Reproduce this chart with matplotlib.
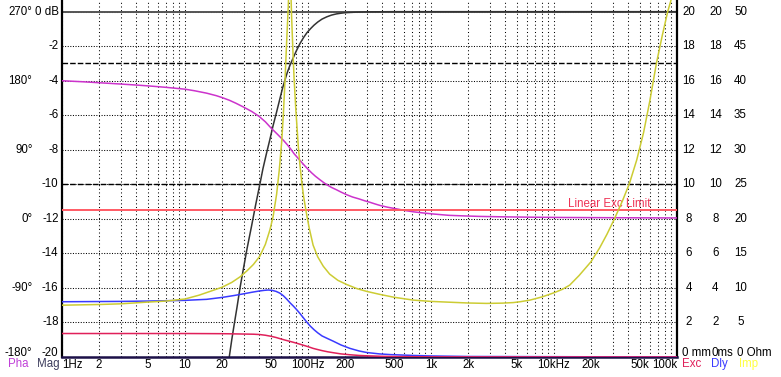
"""Speaker simulation chart: SPL, phase, excursion, group delay and impedance."""

import matplotlib

matplotlib.use("Agg")
import matplotlib.pyplot as plt
from matplotlib.ticker import LogLocator, NullFormatter
from matplotlib.transforms import blended_transform_factory

plt.rcParams["font.family"] = ["Liberation Sans", "DejaVu Sans"]
FONT_SIZE = 8.3

# axis labelling
FREQ_TICKS = [1, 2, 5, 10, 20, 50, 100, 200, 500, 1000, 2000, 5000, 10000, 20000, 50000, 100000]
FREQ_LABELS = ["1Hz", "2", "5", "10", "20", "50", "100Hz", "200", "500", "1k", "2k", "5k", "10kHz", "20k", "50k", "100k"]
DB_TICKS = [0, -2, -4, -6, -8, -10, -12, -14, -16, -18, -20]
DB_LABELS = ["0 dB", "-2", "-4", "-6", "-8", "-10", "-12", "-14", "-16", "-18", "-20"]
PHASE_TICKS = [270, 180, 90, 0, -90, -180]
PHASE_LABELS = ["270°", "180°", "90°", "0°", "-90°", "-180°"]
EXC_TICKS = [20, 18, 16, 14, 12, 10, 8, 6, 4, 2]
DLY_TICKS = [20, 18, 16, 14, 12, 10, 8, 6, 4, 2]
IMP_TICKS = [50, 45, 40, 35, 30, 25, 20, 15, 10, 5]
ZERO_LABELS = ["0 mm", "0ms", "0 Ohm"]
LEGEND_LEFT = ["Pha", "Mag"]
LEGEND_RIGHT = ["Exc", "Dly", "Imp"]

# SPL magnitude (dB)
mag_freq = [20, 21.5, 22.9, 24, 25, 26.5, 28, 30, 32, 34.8, 37.5, 40.6, 43, 46, 49, 52, 55.6, 59.3, 62, 65, 68,
            71.4, 75, 80, 86, 92, 98, 105, 112, 120, 130, 142, 155, 170, 185, 200, 250, 300, 500, 100000]
mag_db = [-23.0, -21.3, -20.0, -19.0, -18.2, -17.1, -16.0, -14.8, -13.7, -12.4, -11.2, -10.0, -9.1, -8.2, -7.4,
          -6.6, -5.8, -5.0, -4.45, -3.95, -3.5, -3.1, -2.75, -2.3, -1.85, -1.5, -1.22, -0.98, -0.78, -0.6,
          -0.43, -0.3, -0.2, -0.13, -0.09, -0.06, -0.025, -0.01, 0.0, 0.0]

# phase (degrees)
pha_freq = [1, 1.5, 2, 3, 4, 5, 6, 7, 8, 10, 12, 15, 18, 20, 23, 26, 30, 35, 40, 45, 50, 56, 63, 68, 72, 77,
            83, 89, 95, 101, 107, 115, 125, 135, 142, 155, 170, 185, 206, 230, 260, 290, 319, 350, 385, 440,
            526, 620, 718, 866, 1050, 1400, 1900, 2500, 4000, 6400, 12000, 30000, 100000]
pha_deg = [180, 178.6, 177.4, 175.7, 174.4, 173.3, 172.3, 171.4, 170.5, 169, 166.9, 163.8, 160.5, 158.1, 154.5,
           150.6, 145.6, 139.8, 133.6, 126.5, 118.5, 110.8, 102.5, 96.5, 91.5, 85, 79, 73.5, 68.5, 64, 60, 55.5,
           51, 47, 44.6, 41, 38, 35, 31.5, 28.5, 26, 23.5, 21.6, 19.5, 17.5, 15.3, 13, 10.8, 9.2, 7.7, 6.3,
           4.6, 3.8, 3.2, 2.6, 2.2, 1.8, 1.5, 1.2]

# cone excursion (mm)
exc_freq = [1, 5, 10, 20, 30, 36, 40.6, 45, 50, 55, 60, 65, 70, 78, 88, 100, 110, 117, 130, 145, 160, 185, 219,
            260, 300, 400, 500, 1000, 100000]
exc_mm = [1.36, 1.36, 1.36, 1.35, 1.33, 1.32, 1.3, 1.26, 1.2, 1.13, 1.05, 0.98, 0.92, 0.83, 0.72, 0.6, 0.5,
          0.45, 0.37, 0.3, 0.25, 0.18, 0.13, 0.09, 0.07, 0.04, 0.025, 0.008, 0.0]
exc_limit_mm = 8.5

# group delay (ms)
dly_freq = [1, 3, 5, 10, 15, 20, 25, 30, 35, 40, 44, 47.5, 51, 55, 59, 63, 67, 71.4, 76, 80.7, 86, 91, 97, 104,
            112, 120, 130, 145, 160, 185, 219, 260, 300, 380, 465, 600, 718, 1000, 2000, 100000]
dly_ms = [3.2, 3.22, 3.24, 3.28, 3.34, 3.45, 3.56, 3.66, 3.75, 3.82, 3.86, 3.88, 3.86, 3.8, 3.7, 3.55, 3.36,
          3.14, 2.95, 2.75, 2.52, 2.3, 2.05, 1.8, 1.58, 1.4, 1.22, 1.06, 0.92, 0.7, 0.5, 0.35, 0.26, 0.18,
          0.14, 0.11, 0.09, 0.06, 0.03, 0.0]

# impedance (Ohm)
imp_freq = [1, 2, 3, 5, 7, 10, 13, 16, 20, 24, 28, 32, 36, 40.6, 45, 49, 52, 55.6, 58.5, 61, 63, 65, 67, 69,
            70.5, 71.3, 72, 73.5, 75.5, 77, 79.5, 81.6, 83.4, 86, 89, 92, 95, 98.5, 102.5, 110, 120, 133, 150,
            175, 206, 250, 300, 385, 500, 718, 1000, 1342, 2000, 2830, 3800, 4660, 5300, 6380, 8000, 10000,
            11700, 13400, 16000, 20000, 23500, 27000, 31000, 36000, 41000, 47000, 53500, 60000, 68000, 76000,
            84000, 89500, 100000]
imp_ohm = [7.5, 7.6, 7.7, 7.95, 8.1, 8.4, 8.95, 9.5, 10.1, 10.8, 11.6, 12.5, 13.4, 14.6, 16.3, 18.4, 20.3, 23.6,
           27.2, 31.0, 35.0, 40.0, 45.5, 50.5, 55.0, 57.0, 55.0, 49.5, 44.0, 40.5, 36.0, 33.0, 30.5, 27.8, 25.3,
           23.3, 21.8, 20.2, 18.6, 16.2, 14.5, 13.15, 12.0, 11.1, 10.5, 9.9, 9.5, 9.06, 8.65, 8.24, 8.05, 7.95,
           7.82, 7.76, 7.8, 7.88, 8.0, 8.24, 8.7, 9.3, 9.8, 10.4, 11.8, 13.8, 15.8, 17.8, 20.0, 22.6, 25.1,
           28.5, 32.5, 37.0, 42.5, 46.6, 50.0, 51.7, 55.0]

DB_TOP = 0.676  # axis runs a little above 0 dB
W, H = 781, 377

fig = plt.figure(figsize=(W / 100, H / 100), dpi=100)
ax = fig.add_axes([62 / W, 20 / H, 615 / W, 357 / H])
ax.set_xscale("log")
ax.set_xlim(1, 100000)
ax.set_ylim(-20, DB_TOP)

# grid
ax.xaxis.set_minor_locator(LogLocator(base=10, subs=range(2, 10)))
ax.xaxis.set_minor_formatter(NullFormatter())
ax.set_yticks(DB_TICKS)
ax.grid(True, which="both", axis="x", color="black", linewidth=0.75, linestyle=(0, (1, 2.5)))
ax.grid(True, which="major", axis="y", color="black", linewidth=0.75, linestyle=(0, (1, 1.5)))
ax.axhline(0, color="#555555", linewidth=1.4)
for level in (-3, -10):
    ax.axhline(level, color="black", linewidth=1.0, linestyle=(0, (4, 1.5)))

ax.set_xticks(FREQ_TICKS, FREQ_LABELS)
ax.tick_params(axis="both", which="both", length=0, labelsize=FONT_SIZE)
ax.tick_params(axis="x", pad=1.8)
ax.tick_params(axis="y", labelleft=False)
xlabels = ax.get_xticklabels()
xlabels[0].set_horizontalalignment("left")
xlabels[-1].set_horizontalalignment("right")

for side in ("left", "right"):
    ax.spines[side].set_color("black")
    ax.spines[side].set_linewidth(1.6)
ax.spines["bottom"].set_color("#1c1048")
ax.spines["bottom"].set_linewidth(1.8)
ax.spines["top"].set_visible(False)

ax.plot(mag_freq, mag_db, color="#333333", linewidth=1.1)

# phase on its own scale: -180..270 deg spans -20..0 dB
ax_pha = ax.twinx()
ax_pha.set_ylim(-180, 270 + DB_TOP * 22.5)
ax_pha.axis("off")
ax_pha.plot(pha_freq, pha_deg, color="#cc33cc", linewidth=1.1)

# excursion / delay: 0..20
ax_mm = ax.twinx()
ax_mm.set_ylim(0, 20 + DB_TOP)
ax_mm.axis("off")
ax_mm.axhline(exc_limit_mm, color="#ff5a64", linewidth=1.4)
ax_mm.text(651 / W, exc_limit_mm + 0.2, "Linear Exc Limit", color="#ee3355", fontsize=FONT_SIZE,
           ha="right", va="baseline", transform=blended_transform_factory(fig.transFigure, ax_mm.transData))
ax_mm.plot(dly_freq, dly_ms, color="#3a3aff", linewidth=1.1)
ax_mm.plot(exc_freq, exc_mm, color="#e0205a", linewidth=1.1)

# impedance: 0..50 Ohm
ax_imp = ax.twinx()
ax_imp.set_ylim(0, 50 + DB_TOP * 2.5)
ax_imp.axis("off")
ax_imp.plot(imp_freq, imp_ohm, color="#cccc33", linewidth=1.1)

# bottom row of labels sits a little above the -20 line
LIFT_DB = 0.26

# left dB and phase labels
t_db = blended_transform_factory(fig.transFigure, ax.transData)
for value, label in zip(DB_TICKS, DB_LABELS):
    y = value + LIFT_DB if value == -20 else value
    fig.text(58.5 / W, y, label, transform=t_db, ha="right", va="center", fontsize=FONT_SIZE)
t_pha = blended_transform_factory(fig.transFigure, ax_pha.transData)
for value, label in zip(PHASE_TICKS, PHASE_LABELS):
    y = value + LIFT_DB * 22.5 if value == -180 else value
    fig.text(32.5 / W, y, label, transform=t_pha, ha="right", va="center", fontsize=FONT_SIZE)

# right scale labels
t_mm = blended_transform_factory(fig.transFigure, ax_mm.transData)
t_imp = blended_transform_factory(fig.transFigure, ax_imp.transData)
for value in EXC_TICKS:
    fig.text(689 / W, value, str(value), transform=t_mm, ha="center", va="center", fontsize=FONT_SIZE)
for value in DLY_TICKS:
    fig.text(715.5 / W, value, str(value), transform=t_mm, ha="center", va="center", fontsize=FONT_SIZE)
for value in IMP_TICKS:
    fig.text(740.5 / W, value, str(value), transform=t_imp, ha="center", va="center", fontsize=FONT_SIZE)
for x_px, label in zip((682, 711.5, 737), ZERO_LABELS):
    fig.text(x_px / W, LIFT_DB, label, transform=t_mm, ha="left", va="center", fontsize=FONT_SIZE)

# colour keys along the bottom
for x_px, label, color in zip((8, 37), LEGEND_LEFT, ("#c040d8", "#3c3c5c")):
    fig.text(x_px / W, 13 / H, label, ha="left", va="center", fontsize=FONT_SIZE, color=color)
for x_px, label, color in zip((682, 711.5, 738.5), LEGEND_RIGHT, ("#e0205a", "#3a3aff", "#ffff40")):
    fig.text(x_px / W, 13 / H, label, ha="left", va="center", fontsize=FONT_SIZE, color=color)

fig.savefig("out.png", dpi=100)
